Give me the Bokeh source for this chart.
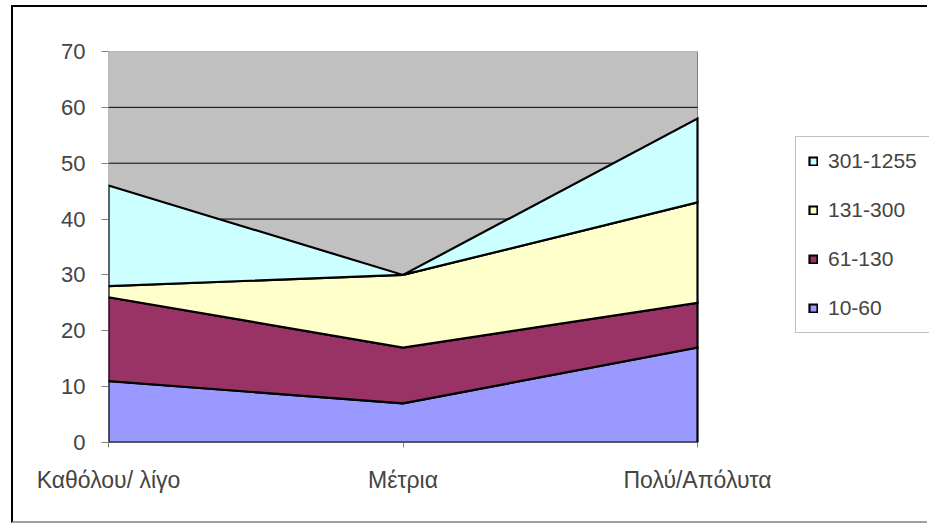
from bokeh.plotting import figure
from bokeh.models import Range1d, FixedTicker, Legend, LegendItem
from bokeh.embed import file_html
from bokeh.resources import INLINE

categories = ["Καθόλου/ λίγο", "Μέτρια", "Πολύ/Απόλυτα"]
series_names = ["10-60", "61-130", "131-300", "301-1255"]
s_10_60 = [11, 7, 17]
s_61_130 = [15, 10, 8]
s_131_300 = [2, 13, 18]
s_301_1255 = [18, 0, 15]
colors = ["#9999FF", "#993366", "#FFFFCC", "#CCFFFF"]
y_ticks = [0, 10, 20, 30, 40, 50, 60, 70]

FONT = "Liberation Sans"
x = list(range(len(categories)))
x_last = len(categories) - 1
y_max = y_ticks[-1]

CANVAS_W, CANVAS_H = 916, 518
LEFT, TOP, FRAME_H = 95, 44, 391
AREA_W = 589  # pixel width of the category span
frame_w = CANVAS_W - LEFT

p = figure(width=CANVAS_W, height=CANVAS_H, output_backend="svg", toolbar_location=None,
           x_range=Range1d(0, x_last * frame_w / AREA_W), y_range=Range1d(0, y_max),
           min_border_left=LEFT, min_border_right=0, min_border_top=TOP,
           min_border_bottom=CANVAS_H - TOP - FRAME_H,
           styles={"margin-left": "11px", "margin-top": "5px",
                   "border-left": "2px solid black", "border-top": "2px solid black",
                   "border-bottom": "2px solid #A0A0A0"})
p.background_fill_color = "white"
p.border_fill_color = "white"
p.outline_line_color = None

# plot area (grey)
p.quad(left=[0], right=[x_last], bottom=[0], top=[y_max],
       fill_color="#C0C0C0", line_color="#808080", line_width=1)
grid_ys = [t for t in y_ticks if 0 < t < y_max]
p.segment(x0=[0] * len(grid_ys), x1=[x_last] * len(grid_ys), y0=grid_ys, y1=grid_ys,
          line_color="black", line_width=1)

series = [s_10_60, s_61_130, s_131_300, s_301_1255]
bottom = [0] * len(categories)
renderers = []
for vals, col in zip(series, colors):
    top = [b + v for b, v in zip(bottom, vals)]
    xs = x + x[::-1]
    ys = top + bottom[::-1]
    r = p.patch(xs, ys, fill_color=col, line_color="black", line_width=2.2,
                line_join="miter")
    renderers.append(r)
    bottom = top

items = [LegendItem(label=n, renderers=[r]) for n, r in zip(series_names, renderers)]
legend = Legend(items=items[::-1], location=(687, 109), orientation="vertical",
                label_text_font=FONT, label_text_font_size="21px",
                label_height=18, label_width=120, glyph_height=10, glyph_width=10,
                spacing=25, padding=12, margin=0, label_standoff=10,
                border_line_color="#808080", border_line_width=1,
                background_fill_color="white", background_fill_alpha=1)
p.add_layout(legend)

p.xaxis.ticker = FixedTicker(ticks=x)
p.xaxis.major_label_overrides = {i: c for i, c in zip(x, categories)}
p.xaxis.major_label_text_font = FONT
p.xaxis.major_label_text_font_size = "23px"
p.xaxis.major_label_standoff = 19
p.xaxis.major_tick_out = 5
p.xaxis.major_tick_in = 0
p.xaxis.minor_tick_line_color = None
p.xaxis.axis_line_color = None
p.xaxis.major_tick_line_color = "#808080"

p.yaxis.ticker = FixedTicker(ticks=y_ticks)
p.yaxis.major_label_text_font = FONT
p.yaxis.major_label_text_font_size = "22px"
p.yaxis.major_label_standoff = 16
p.yaxis.major_tick_out = 7
p.yaxis.major_tick_in = 0
p.yaxis.minor_tick_line_color = None
p.yaxis.axis_line_color = None
p.yaxis.major_tick_line_color = "#808080"

p.xgrid.grid_line_color = None
p.ygrid.grid_line_color = None

open("out.html", "w").write(file_html(p, INLINE))
